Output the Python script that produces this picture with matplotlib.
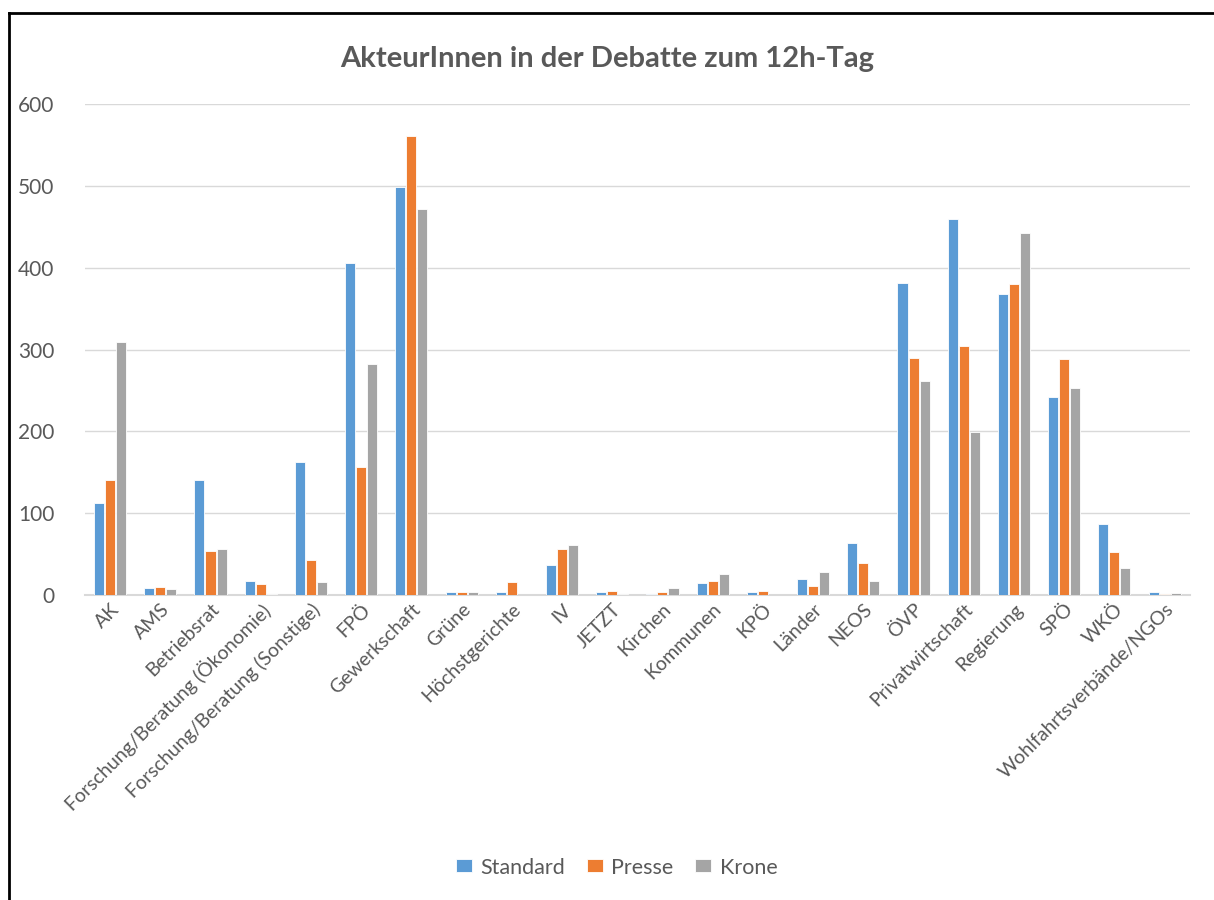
import matplotlib.pyplot as plt
from matplotlib.lines import Line2D
import numpy as np

plt.rcParams['font.family'] = ['Lato', 'DejaVu Sans']

kategorien = ['AK', 'AMS', 'Betriebsrat', 'Forschung/Beratung (Ökonomie)',
              'Forschung/Beratung (Sonstige)', 'FPÖ', 'Gewerkschaft', 'Grüne',
              'Höchstgerichte', 'IV', 'JETZT', 'Kirchen', 'Kommunen', 'KPÖ',
              'Länder', 'NEOS', 'ÖVP', 'Privatwirtschaft', 'Regierung', 'SPÖ',
              'WKÖ', 'Wohlfahrtsverbände/NGOs']
standard = [113, 8, 140, 17, 162, 406, 499, 4, 4, 36, 3, 1, 15, 3, 19, 64, 382, 460, 368, 242, 87, 3]
presse = [140, 10, 54, 13, 43, 156, 561, 4, 16, 56, 5, 4, 17, 5, 11, 39, 290, 305, 380, 289, 52, 1]
krone = [309, 7, 56, 1, 16, 283, 472, 4, 0, 61, 1, 8, 26, 0, 28, 17, 262, 199, 443, 253, 33, 2]

serien = ['Standard', 'Presse', 'Krone']
farben = ['#5b9bd5', '#ed7d31', '#a5a5a5']
txt = '#595959'

fig = plt.figure(figsize=(12.14, 9), dpi=100)
ax = fig.add_axes([0.070, 0.339, 0.910, 0.545])

x = np.arange(len(kategorien))
for i, (werte, name) in enumerate(zip([standard, presse, krone], serien)):
    ax.bar(x + (i - 1) * 0.22, werte, width=0.2, color=farben[i], label=name,
           edgecolor='white', linewidth=0.6, zorder=3)

ax.set_xlim(-0.5, len(kategorien) - 0.5)
ax.set_ylim(0, 600)
ax.set_yticks(range(0, 601, 100))
ax.grid(axis='y', color='#d9d9d9', linewidth=1, zorder=0)
for s in ['top', 'right', 'left']:
    ax.spines[s].set_visible(False)
ax.spines['bottom'].set_color('#d9d9d9')
ax.spines['bottom'].set_linewidth(1.5)
ax.tick_params(length=0, colors=txt)
ax.tick_params(axis='x', labelsize=14, pad=4)
ax.tick_params(axis='y', labelsize=15, pad=22)
ax.set_xticks(x)
ax.set_xticklabels(kategorien, rotation=45, ha='right', rotation_mode='anchor')

fig.text(0.5, 0.935, 'AkteurInnen in der Debatte zum 12h-Tag', ha='center', va='center',
         fontsize=21, fontweight='bold', color=txt)

fig.legend(loc='center', bbox_to_anchor=(0.508, 0.036), ncol=3, frameon=False,
           fontsize=15.5, labelcolor=txt, handlelength=0.75, handleheight=0.55,
           handletextpad=0.4, columnspacing=1.0)

# Rahmen links und oben
fig.add_artist(Line2D([0.0075, 0.0075], [0, 0.986], color='black', linewidth=2, transform=fig.transFigure))
fig.add_artist(Line2D([0.0075, 1], [0.986, 0.986], color='black', linewidth=2, transform=fig.transFigure))

fig.savefig('out.png', dpi=100)
